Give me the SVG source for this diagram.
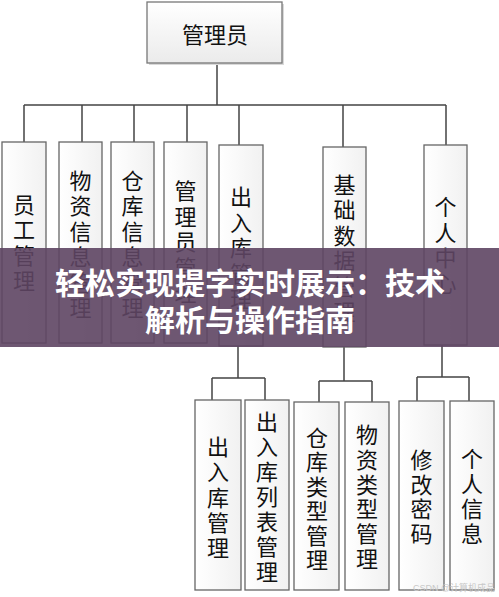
<svg xmlns="http://www.w3.org/2000/svg" width="499" height="597" viewBox="0 0 499 597">
<defs>
<linearGradient id="g" x1="0" y1="0" x2="0" y2="1">
<stop offset="0" stop-color="#ffffff"/>
<stop offset="1" stop-color="#ebebeb"/>
</linearGradient>
<linearGradient id="gv" x1="0" y1="0" x2="1" y2="0">
<stop offset="0" stop-color="#ffffff"/>
<stop offset="1" stop-color="#f1f1f1"/>
</linearGradient>
<style>
.box{fill:url(#gv);stroke:#666;stroke-width:1.3}
.top{fill:url(#g);stroke:#777;stroke-width:1.3}
.sh{fill:#d9d9d9}
.t{font-family:"Noto Sans CJK SC","Noto Sans CJK JP",sans-serif;font-size:22px;fill:#111;text-anchor:middle;dominant-baseline:central}
.ln{fill:none;stroke:#444;stroke-width:1.5}
.ban{font-family:"Noto Sans CJK SC","Noto Sans CJK JP",sans-serif;font-size:30px;font-weight:700;fill:#fff;text-anchor:middle;dominant-baseline:central}
</style>
</defs>
<rect width="499" height="597" fill="#fff"/>
<g id="connectors">
<path class="ln" d="M217 63V105M24 105H446M24 105V142M82 105V142M134 105V142M187 105V142M239 105V145M343 105V147M446 105V145"/>
<path class="ln" d="M238 346V378M212 378H265M212 378V400M265 378V400"/>
<path class="ln" d="M344 347V381M319 381H372M319 381V402M372 381V402"/>
<path class="ln" d="M442 345V377M417 377H469M417 377V401M469 377V401"/>
</g>
<g id="n-admin">
<rect class="sh" x="149" y="4" width="135" height="61"/>
<rect class="top" x="147" y="2" width="135" height="61"/>
<text class="t" x="215" y="33">管理员</text>
</g>
<g id="n-staff">
<rect class="box" x="2" y="142" width="44" height="201"/>
<text class="t"><tspan x="24" y="202.75">员</tspan><tspan x="24" y="228.25">工</tspan><tspan x="24" y="253.75">管</tspan><tspan x="24" y="279.25">理</tspan></text>
</g>
<g id="n-goods">
<rect class="box" x="59" y="142" width="43" height="201"/>
<text class="t"><tspan x="80.5" y="178.75">物</tspan><tspan x="80.5" y="204.25">资</tspan><tspan x="80.5" y="229.75">信</tspan><tspan x="80.5" y="255.25">息</tspan><tspan x="80.5" y="280.75">管</tspan><tspan x="80.5" y="306.25">理</tspan></text>
</g>
<g id="n-warehouse">
<rect class="box" x="111" y="142" width="43" height="201"/>
<text class="t"><tspan x="132.5" y="178.75">仓</tspan><tspan x="132.5" y="204.25">库</tspan><tspan x="132.5" y="229.75">信</tspan><tspan x="132.5" y="255.25">息</tspan><tspan x="132.5" y="280.75">管</tspan><tspan x="132.5" y="306.25">理</tspan></text>
</g>
<g id="n-adminmgr">
<rect class="box" x="164" y="142" width="43" height="201"/>
<text class="t"><tspan x="185.5" y="189">管</tspan><tspan x="185.5" y="214.5">理</tspan><tspan x="185.5" y="240">员</tspan><tspan x="185.5" y="265.5">管</tspan><tspan x="185.5" y="291">理</tspan></text>
</g>
<g id="n-inout">
<rect class="box" x="219" y="145" width="44" height="201"/>
<text class="t"><tspan x="241" y="195">出</tspan><tspan x="241" y="220.5">入</tspan><tspan x="241" y="246">库</tspan><tspan x="241" y="271.5">管</tspan><tspan x="241" y="297">理</tspan></text>
</g>
<g id="n-basic">
<rect class="box" x="323" y="147" width="43" height="200"/>
<text class="t"><tspan x="344.5" y="182.5">基</tspan><tspan x="344.5" y="208">础</tspan><tspan x="344.5" y="233.5">数</tspan><tspan x="344.5" y="259">据</tspan><tspan x="344.5" y="284.5">管</tspan><tspan x="344.5" y="310">理</tspan></text>
</g>
<g id="n-personal">
<rect class="box" x="424" y="145" width="43" height="200"/>
<text class="t"><tspan x="445.5" y="205">个</tspan><tspan x="445.5" y="230.5">人</tspan><tspan x="445.5" y="256">中</tspan><tspan x="445.5" y="281.5">心</tspan></text>
</g>
<g id="n-inoutmgr">
<rect class="box" x="195" y="400" width="46" height="190"/>
<text class="t"><tspan x="218" y="445">出</tspan><tspan x="218" y="470.25">入</tspan><tspan x="218" y="495.5">库</tspan><tspan x="218" y="520.75">管</tspan><tspan x="218" y="546">理</tspan></text>
</g>
<g id="n-inoutlist">
<rect class="box" x="245" y="400" width="44" height="190"/>
<text class="t"><tspan x="267" y="420">出</tspan><tspan x="267" y="445">入</tspan><tspan x="267" y="470">库</tspan><tspan x="267" y="495">列</tspan><tspan x="267" y="520">表</tspan><tspan x="267" y="545">管</tspan><tspan x="267" y="570">理</tspan></text>
</g>
<g id="n-whtype">
<rect class="box" x="294" y="402" width="45" height="188"/>
<text class="t"><tspan x="317" y="435.5">仓</tspan><tspan x="317" y="460">库</tspan><tspan x="317" y="484.5">类</tspan><tspan x="317" y="509">型</tspan><tspan x="317" y="533.5">管</tspan><tspan x="317" y="558">理</tspan></text>
</g>
<g id="n-goodstype">
<rect class="box" x="345" y="402" width="44" height="188"/>
<text class="t"><tspan x="367" y="433">物</tspan><tspan x="367" y="457.8">资</tspan><tspan x="367" y="482.6">类</tspan><tspan x="367" y="507.4">型</tspan><tspan x="367" y="532.2">管</tspan><tspan x="367" y="557">理</tspan></text>
</g>
<g id="n-pwd">
<rect class="box" x="399" y="401" width="45" height="189"/>
<text class="t"><tspan x="421.5" y="458">修</tspan><tspan x="421.5" y="482.7">改</tspan><tspan x="421.5" y="507.3">密</tspan><tspan x="421.5" y="532">码</tspan></text>
</g>
<g id="n-info">
<rect class="box" x="450" y="401" width="44" height="189"/>
<text class="t"><tspan x="472" y="457">个</tspan><tspan x="472" y="482">人</tspan><tspan x="472" y="507">信</tspan><tspan x="472" y="532">息</tspan></text>
</g>
<text x="454" y="588" font-family="'Liberation Sans','Noto Sans CJK SC',sans-serif" font-size="9" fill="#c8c8c8" text-anchor="middle" dominant-baseline="central">CSDN @计算机成品</text>
<g id="banner">
<rect x="0" y="248" width="499" height="99" fill="#5e4563" fill-opacity="0.9"/>
<text class="ban" x="250" y="281">轻松实现提字实时展示：技术</text>
<text class="ban" x="250" y="318">解析与操作指南</text>
</g>
</svg>
